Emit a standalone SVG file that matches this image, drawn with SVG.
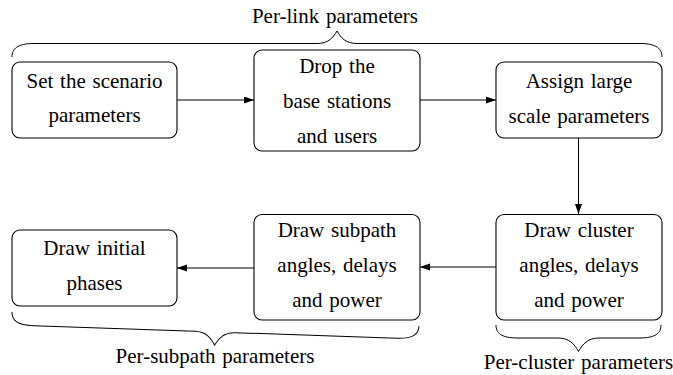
<svg xmlns="http://www.w3.org/2000/svg" width="673" height="375" viewBox="0 0 673 375">
<style>
.box{fill:#fff;stroke:#000;stroke-width:1.1}
.t{font-family:'Liberation Serif','Tinos','Times New Roman','DejaVu Serif',serif;font-size:21px;fill:#000;text-anchor:middle;word-spacing:1.5px}
.c{fill:none;stroke:#000;stroke-width:1}
.br{fill:none;stroke:#000;stroke-width:1}
</style>
<defs>
<marker id="ah" markerUnits="userSpaceOnUse" markerWidth="10" markerHeight="8" refX="10" refY="3.5" orient="auto">
<path d="M0,0 L10,3.5 L0,7 Z" fill="#000"/>
</marker>
</defs>
<g id="connectors">
<line class="c" x1="177" y1="100" x2="254" y2="100" marker-end="url(#ah)"/>
<line class="c" x1="420" y1="100" x2="496" y2="100" marker-end="url(#ah)"/>
<line class="c" x1="578.5" y1="138" x2="578.5" y2="214" marker-end="url(#ah)"/>
<line class="c" x1="496" y1="267" x2="420" y2="267" marker-end="url(#ah)"/>
<line class="c" x1="254" y1="268" x2="177" y2="268" marker-end="url(#ah)"/>
</g>
<g id="n1">
<rect class="box" x="12" y="62" width="165" height="76" rx="8"/>
<text class="t" x="94.5" y="87.5" font-family="Liberation Serif, serif">Set the scenario</text>
<text class="t" x="94.5" y="122" font-family="Liberation Serif, serif">parameters</text>
</g>
<g id="n2">
<rect class="box" x="254" y="50" width="166" height="101" rx="8"/>
<text class="t" x="337" y="73">Drop the</text>
<text class="t" x="337" y="108">base stations</text>
<text class="t" x="337" y="143">and users</text>
</g>
<g id="n3">
<rect class="box" x="496" y="62" width="166" height="76" rx="8"/>
<text class="t" x="579" y="87.5">Assign large</text>
<text class="t" x="579" y="122.5">scale parameters</text>
</g>
<g id="n4">
<rect class="box" x="496" y="214.5" width="166" height="105.5" rx="8"/>
<text class="t" x="579" y="236.7">Draw cluster</text>
<text class="t" x="579" y="271.7">angles, delays</text>
<text class="t" x="579" y="306.7">and power</text>
</g>
<g id="n5">
<rect class="box" x="254" y="214.5" width="166" height="105.5" rx="8"/>
<text class="t" x="337" y="236.7">Draw subpath</text>
<text class="t" x="337" y="271.7">angles, delays</text>
<text class="t" x="337" y="306.7">and power</text>
</g>
<g id="n6">
<rect class="box" x="12" y="230" width="165" height="76" rx="8"/>
<text class="t" x="94.5" y="255">Draw initial</text>
<text class="t" x="94.5" y="290">phases</text>
</g>
<g id="brace-link">
<path class="br" d="M12,57 C12,49 17,43.5 34,43.5 L317,43.5 C328,43.5 333,38 337,31 C341,38 346,43.5 357,43.5 L640,43.5 C657,43.5 662,49 662,57"/>
<text class="t" x="335" y="23.3">Per-link parameters</text>
</g>
<g id="brace-subpath">
<path class="br" transform="translate(12,312) rotate(1.97)" d="M0,0 C0,8 5,13 22,13 L183.6,13 C194.6,13 199.6,19 203.6,26 C207.6,19 212.6,13 223.6,13 L385.2,13 C402.2,13 407.2,8 407.2,0"/>
<text class="t" x="215" y="363.3">Per-subpath parameters</text>
</g>
<g id="brace-cluster">
<path class="br" d="M496,325 C496,333 501,338 518,338 L558,338 C569,338 574.5,344 578.5,351.5 C582.5,344 588,338 599,338 L639,338 C656,338 661,333 661,325"/>
<text class="t" x="578.5" y="369.3">Per-cluster parameters</text>
</g>
</svg>
